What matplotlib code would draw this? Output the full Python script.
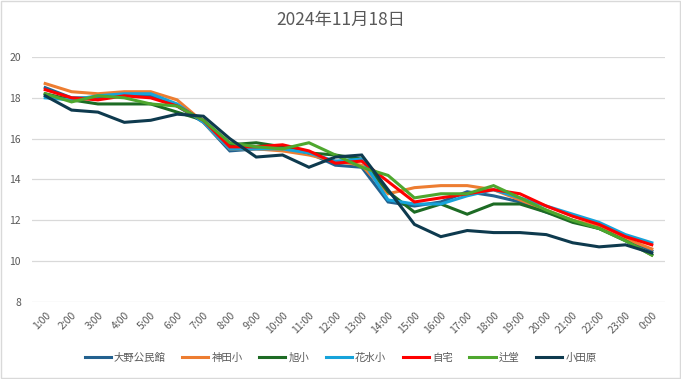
import matplotlib
matplotlib.use("Agg")
import matplotlib.pyplot as plt
from matplotlib.patches import Rectangle

plt.rcParams['font.family'] = ['Noto Sans CJK JP', 'DejaVu Sans']

hours = ['1:00', '2:00', '3:00', '4:00', '5:00', '6:00', '7:00', '8:00', '9:00', '10:00',
         '11:00', '12:00', '13:00', '14:00', '15:00', '16:00', '17:00', '18:00', '19:00',
         '20:00', '21:00', '22:00', '23:00', '0:00']

oono = [18.5, 18.0, 18.0, 18.1, 18.1, 17.6, 16.8, 15.4, 15.5, 15.5, 15.3, 14.7,
        14.6, 12.9, 12.7, 12.9, 13.4, 13.2, 12.9, 12.4, 12.0, 11.6, 11.1, 10.5]
kanda = [18.7, 18.3, 18.2, 18.3, 18.3, 17.9, 16.8, 15.5, 15.5, 15.4, 15.2, 14.9,
         14.7, 13.3, 13.6, 13.7, 13.7, 13.5, 13.0, 12.5, 12.0, 11.7, 11.1, 10.6]
asahi = [18.2, 17.9, 17.7, 17.7, 17.7, 17.3, 16.9, 15.7, 15.8, 15.6, 15.3, 15.2,
         15.0, 13.4, 12.4, 12.8, 12.3, 12.8, 12.8, 12.4, 11.9, 11.6, 11.0, 10.3]
hanamizu = [18.0, 17.9, 18.1, 18.2, 18.2, 17.7, 16.8, 15.5, 15.5, 15.5, 15.3, 14.9,
            15.0, 13.0, 12.8, 12.8, 13.2, 13.5, 13.1, 12.7, 12.3, 11.9, 11.3, 10.9]
jitaku = [18.4, 18.0, 17.9, 18.1, 18.0, 17.6, 16.9, 15.6, 15.6, 15.7, 15.4, 14.8,
          14.9, 13.9, 12.9, 13.1, 13.3, 13.5, 13.3, 12.7, 12.2, 11.8, 11.2, 10.8]
tsujido = [18.2, 17.8, 18.1, 18.0, 17.7, 17.6, 16.9, 15.8, 15.6, 15.5, 15.8, 15.2,
           14.6, 14.2, 13.1, 13.3, 13.3, 13.7, 13.1, 12.5, 12.0, 11.6, 11.0, 10.3]
odawara = [18.1, 17.4, 17.3, 16.8, 16.9, 17.2, 17.1, 16.0, 15.1, 15.2, 14.6, 15.1,
           15.2, 13.5, 11.8, 11.2, 11.5, 11.4, 11.4, 11.3, 10.9, 10.7, 10.8, 10.4]

series = [
    ('大野公民館', oono, '#23618F'),
    ('神田小', kanda, '#ED7D31'),
    ('旭小', asahi, '#1D6B24'),
    ('花水小', hanamizu, '#16A3DA'),
    ('自宅', jitaku, '#FF0000'),
    ('辻堂', tsujido, '#4EA72E'),
    ('小田原', odawara, '#0E3A4E'),
]

fig = plt.figure(figsize=(6.81, 3.79), dpi=100)
ax = fig.add_axes([0.047, 0.2032, 0.9295, 0.6464])

x = list(range(len(hours)))
for name, vals, col in series:
    ax.plot(x, vals, color=col, lw=2.2, label=name, solid_joinstyle='miter')

ax.set_xlim(-0.5, len(hours) - 0.5)
ax.set_ylim(8, 20)
ax.set_yticks(range(8, 21, 2))
ax.set_xticks(x)
ax.set_xticklabels(hours, rotation=45, ha='right', rotation_mode='anchor')
ax.tick_params(axis='both', length=0, labelsize=7.5, labelcolor='#595959')
ax.tick_params(axis='x', pad=6)
ax.tick_params(axis='y', pad=8)
ax.grid(axis='y', color='#D9D9D9', lw=0.9)
ax.set_axisbelow(True)
for s in ax.spines.values():
    s.set_visible(False)

fig.suptitle('2024年11月18日', y=0.947, va='center', fontsize=12.5, color='#595959')

ax.legend(loc='center', bbox_to_anchor=(0.5, 0.057), bbox_transform=fig.transFigure,
          ncol=7, frameon=False, fontsize=7.5, labelcolor='#595959',
          handlelength=2.5, handletextpad=0.3, columnspacing=1.6)

fig.patches.append(Rectangle((0.001, 0.002), 0.997, 0.995, transform=fig.transFigure,
                             fill=False, edgecolor='#D9D9D9', lw=1))

fig.savefig('out.png', dpi=100)
